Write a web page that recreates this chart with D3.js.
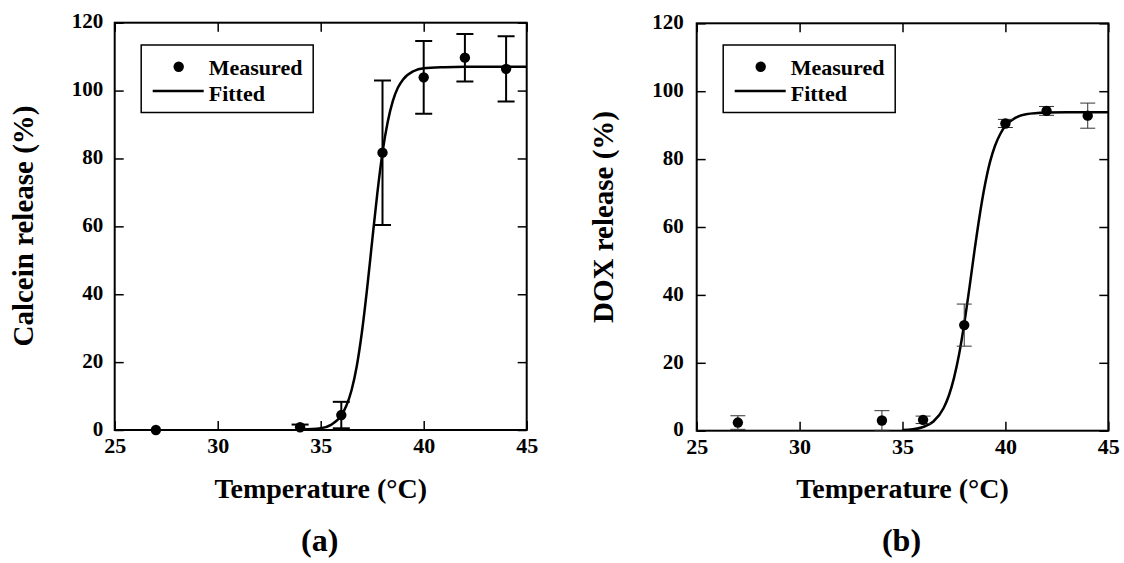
<!DOCTYPE html>
<html>
<head>
<meta charset="utf-8">
<script src="https://cdn.jsdelivr.net/npm/d3@7/dist/d3.min.js"></script>
<style>
  html, body { margin: 0; padding: 0; background: #fff; }
  svg { display: block; }
  text { font-family: "Liberation Serif", "Times New Roman", serif; font-weight: bold; fill: #000; }
</style>
</head>
<body>
<svg id="chart" width="1124" height="563"></svg>
<script>
// ---------- data ----------
const temps = [27, 34, 36, 38, 40, 42, 44];

// (a) Calcein
const calceinMeasured = [0.0, 0.8, 4.4, 81.7, 103.9, 109.7, 106.4];
const calceinError    = [0.0, 0.8, 3.9, 21.3, 10.7, 7.0, 9.6];
const calceinFitX = [34.0, 35.0, 35.5, 36.0, 36.25, 36.5, 36.75, 37.0, 37.25, 37.5, 37.75, 38.0, 38.25, 38.5, 38.75, 39.0, 39.5, 40.0, 41.0, 42.0, 43.0, 44.0, 45.0];
const calceinFitY = [0.1, 0.5, 1.5, 4.3, 7.2, 11.8, 18.8, 28.8, 41.5, 55.8, 69.8, 81.8, 90.7, 96.9, 100.9, 103.3, 105.7, 106.6, 106.9, 107.0, 107.0, 107.0, 107.0];

// (b) DOX
const doxMeasured = [2.4, 3.0, 3.2, 31.1, 90.5, 94.2, 92.8];
const doxError    = [2.0, 2.9, 1.1, 6.2, 1.2, 1.3, 3.7];
const doxFitX = [35.0, 35.5, 36.0, 36.5, 37.0, 37.25, 37.5, 37.75, 38.0, 38.25, 38.5, 38.75, 39.0, 39.25, 39.5, 39.75, 40.0, 40.5, 41.0, 42.0, 43.0, 44.0, 45.0];
const doxFitY = [0.2, 0.4, 1.1, 2.7, 6.7, 10.3, 15.5, 22.5, 31.5, 42.0, 53.1, 63.4, 72.2, 79.1, 84.0, 87.4, 89.8, 92.2, 93.2, 93.7, 93.8, 93.8, 93.8];

const xTicks = [25, 30, 35, 40, 45];
const yTicks = [0, 20, 40, 60, 80, 100, 120];
const xDomain = [25, 45];
const yDomain = [0, 120];

const legendLabels = ["Measured", "Fitted"];
const xTitle = "Temperature (\u00B0C)";

// ---------- drawing ----------
const svg = d3.select("#chart");

function panel(opts) {
  const g = svg.append("g");
  const x = d3.scaleLinear().domain(xDomain).range([opts.left, opts.right]);
  const y = d3.scaleLinear().domain(yDomain).range([opts.bottom, opts.top]);
  const tick = 9;

  // inner ticks on all four sides
  const axB = g.append("g").attr("transform", `translate(0,${opts.bottom})`)
    .call(d3.axisBottom(x).tickValues(xTicks).tickSize(-tick).tickPadding(0).tickFormat(d3.format("d")));
  const axT = g.append("g").attr("transform", `translate(0,${opts.top})`)
    .call(d3.axisTop(x).tickValues(xTicks).tickSize(-tick).tickFormat(""));
  const axL = g.append("g").attr("transform", `translate(${opts.left},0)`)
    .call(d3.axisLeft(y).tickValues(yTicks).tickSize(-tick).tickPadding(0).tickFormat(d3.format("d")));
  const axR = g.append("g").attr("transform", `translate(${opts.right},0)`)
    .call(d3.axisRight(y).tickValues(yTicks).tickSize(-tick).tickFormat(""));
  [axB, axT, axL, axR].forEach(a => {
    a.select(".domain").remove();
    a.selectAll(".tick line").attr("stroke", "#000").attr("stroke-width", 1.5);
  });
  axB.selectAll(".tick text")
    .attr("y", 23).attr("dy", 0)
    .style("font-size", "22px").style("font-family", "Liberation Serif").style("font-weight", "bold").attr("fill", "#000");
  axL.selectAll(".tick text")
    .attr("x", -opts.ylabGap).attr("dy", "0.25em")
    .style("font-size", "21px").style("font-family", "Liberation Serif").style("font-weight", "bold").attr("fill", "#000");

  // frame
  g.append("rect")
    .attr("x", opts.left).attr("y", opts.top)
    .attr("width", opts.right - opts.left).attr("height", opts.bottom - opts.top)
    .attr("fill", "none").attr("stroke", "#000").attr("stroke-width", 2);

  // clip
  const clipId = "clip" + opts.name;
  svg.append("clipPath").attr("id", clipId).append("rect")
    .attr("x", opts.left).attr("y", opts.top - 10)
    .attr("width", opts.right - opts.left).attr("height", opts.bottom - opts.top + 10);

  // fitted curve
  const fit = opts.fitX.map((d, i) => [d, opts.fitY[i]]);
  g.append("path")
    .attr("clip-path", `url(#${clipId})`)
    .attr("d", d3.line().x(d => x(d[0])).y(d => y(d[1])).curve(d3.curveMonotoneX)(fit))
    .attr("fill", "none").attr("stroke", "#000").attr("stroke-width", 2.5);

  // error bars
  const pts = temps.map((t, i) => ({ t, v: opts.meas[i], e: opts.err[i] }));
  const eb = g.append("g").attr("clip-path", `url(#${clipId})`);
  pts.filter(p => p.e > 0).forEach(p => {
    const hw = opts.capW / 2;
    eb.append("line").attr("x1", x(p.t)).attr("x2", x(p.t))
      .attr("y1", y(p.v - p.e)).attr("y2", y(p.v + p.e))
      .attr("stroke", opts.ebColor).attr("stroke-width", opts.ebW);
    [p.v - p.e, p.v + p.e].forEach(v => {
      eb.append("line").attr("x1", x(p.t) - hw).attr("x2", x(p.t) + hw)
        .attr("y1", y(v)).attr("y2", y(v))
        .attr("stroke", opts.ebColor).attr("stroke-width", opts.ebW);
    });
  });

  // points
  g.append("g").selectAll("circle").data(pts).join("circle")
    .attr("cx", d => x(d.t)).attr("cy", d => y(d.v)).attr("r", 5.2).attr("fill", "#000");

  // legend
  const lx = opts.left;
  g.append("rect").attr("x", lx + 26.5).attr("y", 45).attr("width", 172).attr("height", 67.5)
    .attr("fill", "#fff").attr("stroke", "#000").attr("stroke-width", 1.5);
  g.append("circle").attr("cx", lx + 64).attr("cy", 66.7).attr("r", 5.2).attr("fill", "#000");
  g.append("line").attr("x1", lx + 38).attr("x2", lx + 89).attr("y1", 91).attr("y2", 91)
    .attr("stroke", "#000").attr("stroke-width", 2.5);
  g.append("text").attr("x", lx + 94).attr("y", 74.5).style("font-size", "22px").text(legendLabels[0]);
  g.append("text").attr("x", lx + 94).attr("y", 100.5).style("font-size", "22px").text(legendLabels[1]);

  // axis titles
  const cx = (opts.left + opts.right) / 2;
  g.append("text").attr("x", cx).attr("y", 498).attr("text-anchor", "middle")
    .style("font-size", "28px").text(xTitle);
  g.append("text")
    .attr("transform", `translate(${opts.ytitleX},${opts.ytitleY}) rotate(-90)`)
    .attr("text-anchor", "middle").style("font-size", "29px").text(opts.ytitle);
  g.append("text").attr("x", cx - 1).attr("y", 551).attr("text-anchor", "middle")
    .style("font-size", "32px").text(opts.label);
}

panel({
  name: "a", left: 114.7, right: 526.7, top: 22.7, bottom: 430,
  meas: calceinMeasured, err: calceinError, fitX: calceinFitX, fitY: calceinFitY,
  ebColor: "#000", ebW: 2, capW: 17, ylabGap: 11.5,
  ytitle: "Calcein release (%)", ytitleX: 33, ytitleY: 226, label: "(a)"
});
panel({
  name: "b", left: 696.7, right: 1108.3, top: 23.3, bottom: 430.7,
  meas: doxMeasured, err: doxError, fitX: doxFitX, fitY: doxFitY,
  ebColor: "#333", ebW: 1, capW: 15, ylabGap: 13,
  ytitle: "DOX release (%)", ytitleX: 613, ytitleY: 217, label: "(b)"
});
</script>
</body>
</html>
